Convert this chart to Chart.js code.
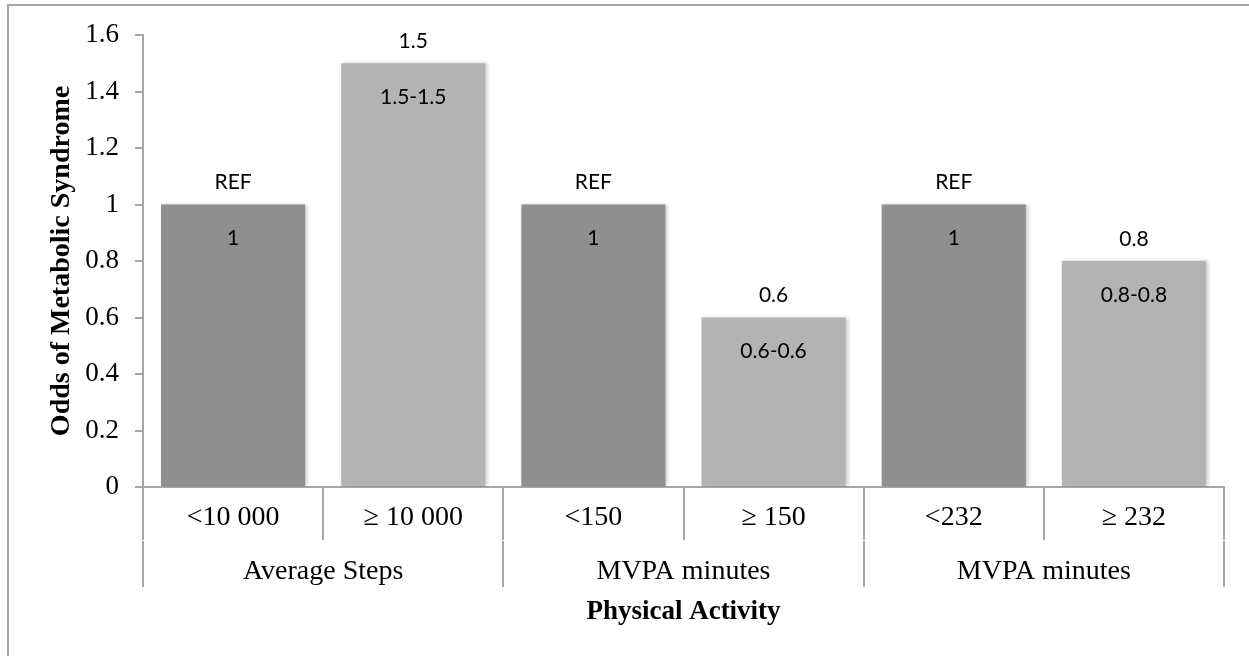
<!DOCTYPE html>
<html>
<head>
<meta charset="utf-8">
<script src="https://cdn.jsdelivr.net/npm/chart.js@4/dist/chart.umd.min.js"></script>
<style>
  html, body { margin: 0; padding: 0; background: #fff; }
  #wrap { position: relative; width: 1249px; height: 656px; overflow: hidden; }
  #frame { position: absolute; left: 7px; top: 4px; width: 1300px; height: 700px;
           border-top: 2px solid #a6a6a6; border-left: 2px solid #a6a6a6; box-sizing: border-box; }
  canvas { position: absolute; left: 0; top: 0; }
</style>
</head>
<body>
<div id="wrap">
  <div id="frame"></div>
  <canvas id="c" width="1249" height="656"></canvas>
</div>
<script>
const categories = ['<10 000', '\u2265 10 000', '<150', '\u2265 150', '<232', '\u2265 232'];
const groups = ['Average Steps', 'MVPA minutes', 'MVPA minutes'];
const odds = [1, 1.5, 1, 0.6, 1, 0.8];
const topLabels = ['REF', '1.5', 'REF', '0.6', 'REF', '0.8'];
const innerLabels = ['1', '1.5-1.5', '1', '0.6-0.6', '1', '0.8-0.8'];
const barColors = ['#8f8f8f', '#b3b3b3', '#8f8f8f', '#b3b3b3', '#8f8f8f', '#b3b3b3'];
const yTicks = [0, 0.2, 0.4, 0.6, 0.8, 1, 1.2, 1.4, 1.6];

const AXIS = '#a6a6a6';
const SERIF = "'Liberation Serif', 'Times New Roman', serif";

const shadowPlugin = {
  id: 'barShadow',
  beforeDatasetDraw(chart) {
    const ctx = chart.ctx;
    ctx.save();
    ctx.shadowColor = 'rgba(0,0,0,0.22)';
    ctx.shadowBlur = 4;
    ctx.shadowOffsetX = 2;
    ctx.shadowOffsetY = 0;
  },
  afterDatasetDraw(chart) {
    chart.ctx.restore();
  }
};

const labelPlugin = {
  id: 'barLabels',
  afterDatasetsDraw(chart) {
    const ctx = chart.ctx;
    const meta = chart.getDatasetMeta(0);
    ctx.save();
    ctx.font = "21px Lato, 'Open Sans', sans-serif";
    ctx.fillStyle = '#000';
    ctx.textAlign = 'center';
    ctx.textBaseline = 'middle';
    meta.data.forEach((bar, i) => {
      ctx.fillText(topLabels[i], bar.x, bar.y - 22);
      ctx.fillText(innerLabels[i], bar.x, bar.y + 34);
    });
    ctx.restore();
  }
};

new Chart(document.getElementById('c'), {
  type: 'bar',
  data: {
    labels: categories,
    datasets: [{
      data: odds,
      backgroundColor: barColors,
      borderWidth: 0,
      barPercentage: 0.8,
      categoryPercentage: 1.0
    }]
  },
  options: {
    responsive: false,
    animation: false,
    devicePixelRatio: 1,
    layout: { padding: { top: 35, right: 25, bottom: 25, left: 0 } },
    plugins: { legend: { display: false }, tooltip: { enabled: false }, title: { display: false } },
    scales: {
      x: {
        type: 'category',
        offset: true,
        grid: { offset: true, drawOnChartArea: false, tickLength: 53, color: AXIS, lineWidth: 2 },
        border: { display: true, color: AXIS, width: 2 },
        ticks: { color: '#000', padding: -38.8, font: { family: SERIF, size: 28 }, maxRotation: 0, autoSkip: false },
        afterFit(s) { s.height = 54; }
      },
      x2: {
        type: 'category',
        position: 'bottom',
        labels: groups,
        offset: true,
        grid: { offset: true, drawOnChartArea: false, tickLength: 46, color: AXIS, lineWidth: 2 },
        border: { display: false },
        ticks: { color: '#000', padding: -31.8, font: { family: SERIF, size: 28 }, maxRotation: 0, autoSkip: false },
        title: { display: true, text: 'Physical Activity', color: '#000',
                 font: { family: SERIF, size: 27, weight: 'bold' }, padding: { top: 0, bottom: 2.5 } },
        afterFit(s) { s.height = 90; }
      },
      y: {
        min: 0,
        max: 1.6,
        afterBuildTicks(s) { s.ticks = yTicks.map(v => ({ value: v })); },
        grid: { drawOnChartArea: false, tickLength: 8, color: AXIS, lineWidth: 2 },
        border: { display: true, color: AXIS, width: 2 },
        ticks: { color: '#000', padding: 16, font: { family: SERIF, size: 27 },
                 callback: v => String(Math.round(v * 10) / 10) },
        title: { display: true, text: 'Odds of Metabolic Syndrome', color: '#000',
                 font: { family: SERIF, size: 28, weight: 'bold' }, padding: { top: 45, bottom: 0 } },
        afterFit(s) { s.width = 143; }
      }
    }
  },
  plugins: [shadowPlugin, labelPlugin]
});
</script>
</body>
</html>
